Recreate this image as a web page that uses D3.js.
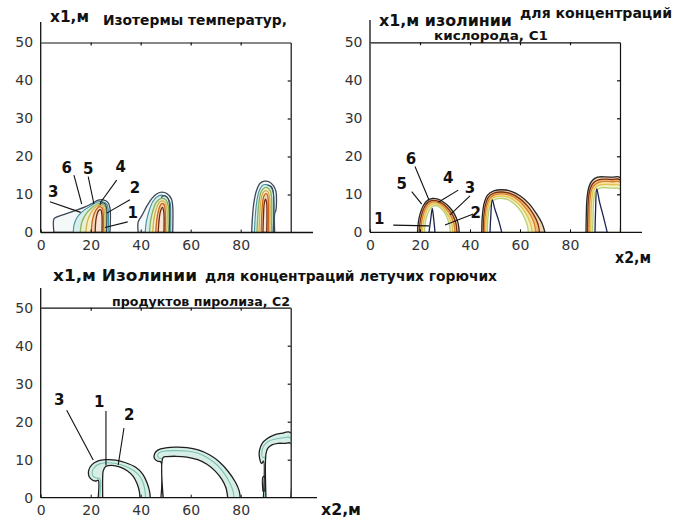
<!DOCTYPE html>
<html>
<head>
<meta charset="utf-8">
<script src="https://cdn.jsdelivr.net/npm/d3@7"></script>
<style>
  body { margin: 0; background: #fff; }
  svg { display: block; }
</style>
</head>
<body>
<script>
// tick values shared by the three panels
const xTicks = [0, 20, 40, 60, 80];
const yTicks = [0, 10, 20, 30, 40, 50];

// isotherms (panel 1): [level, [[x2, x1], ...]]  level 0 = outermost
const tempContours = [
  // plume near x2=25
  [0, [[5.3,0],[5.3,3.6],[6.5,4.1],[10,4.9],[14,5.8],[18,6.8],[21,7.8],[23,8.5],[25,8.6],[26.8,8],[27.7,6.5],[27.7,0]]],
  [1, [[13,0],[13.4,2.2],[14.8,4.2],[17,5.7],[20,7],[22.5,8],[24.8,8.1],[26.5,7.4],[27,6],[27,0]]],
  [2, [[15.8,0],[16.5,2.8],[18,4.8],[20.2,6.4],[22.5,7.5],[24.5,7.6],[25.8,6.8],[26.2,5],[26.2,0]]],
  [3, [[18,0],[18.8,3.2],[20.3,5.4],[22.3,6.9],[24.2,7.2],[25.3,6.3],[25.6,0]]],
  [4, [[20.2,0],[20.8,3.6],[22,5.8],[23.5,6.8],[24.6,6.4],[25,5],[25,0]]],
  [5, [[21.8,0],[22.2,3.8],[23.2,5.8],[24,6],[24.5,4.5],[24.5,0]]],
  // plume near x2=48
  [0, [[39,0],[39,2.8],[40.5,4.5],[42.5,7],[44.5,9],[46.5,10.2],[48.5,10.6],[50.6,10.2],[52.3,8.8],[52.8,7],[52.8,0]]],
  [1, [[41.8,0],[42.3,3],[43.5,6],[45,8.3],[47,9.6],[48.8,9.8],[50.6,9.2],[51.8,7.8],[52,6],[52,0]]],
  [2, [[43.5,0],[44,3.2],[45,6],[46.4,8.1],[48.3,9],[50,8.6],[51,7],[51.2,0]]],
  [3, [[44.8,0],[45.3,3.5],[46.3,6.3],[47.6,8],[49,8.3],[50.2,7.3],[50.4,0]]],
  [4, [[46,0],[46.5,3.6],[47.3,6.2],[48.4,7.6],[49.4,7.3],[49.8,5.8],[49.8,0]]],
  [5, [[47,0],[47.4,3.5],[48,5.8],[48.7,6.6],[49.2,5.5],[49.3,0]]],
  // plume near x2=89
  [0, [[84.4,0],[84.6,3],[85.2,7.5],[86.2,10.8],[87.7,12.9],[89.5,13.5],[91.5,13.3],[93.2,12.2],[94.1,10.8],[94.1,5.9],[93.6,5],[93.6,0]]],
  [1, [[85.5,0],[85.8,4],[86.4,8],[87.3,10.8],[88.7,12.4],[90.3,12.6],[92,12],[93,10.5],[93,0]]],
  [2, [[86.5,0],[86.8,4],[87.3,8],[88.1,10.6],[89.3,11.7],[90.6,11.8],[91.8,11],[92.3,9.5],[92.3,0]]],
  [3, [[87.3,0],[87.6,4],[88,8],[88.8,10.3],[90,11],[91,10.6],[91.6,9],[91.6,0]]],
  [4, [[88.2,0],[88.4,4],[88.8,8],[89.4,9.8],[90.3,10.2],[90.9,9.3],[91,0]]],
  [5, [[88.9,0],[89.1,4],[89.4,7.5],[89.9,8.8],[90.3,8.2],[90.4,0]]]
];
const tempLines = [
  [[26.3,0],[26.3,6.6],[25.6,7.6],[24.5,7.8],[23.6,7.2]],
  [[51.4,0],[51.4,8],[50.6,9.3],[49.2,9.7],[48.2,9.2]],
  [[93,0],[93,10.8],[92.2,12.1],[90.8,12.5]]
];
// label, label centre, leader start, leader end
const tempLabels = [
  ["3", [5, 10.7], [3.7, 8.1], [16, 5.3]],
  ["6", [10.4, 16.9], [13.3, 15.1], [16.4, 7.5]],
  ["5", [19, 16.6], [19, 14.7], [21.3, 7.5]],
  ["4", [32, 17.3], [30.4, 13.8], [23.7, 7.7]],
  ["2", [37.7, 11.6], [35.7, 8.6], [26.4, 5.1]],
  ["1", [36.8, 5.1], [34.8, 2.8], [25.7, 1.3]]
];

// oxygen C1 isolines (panel 2)
const oxyContours = [
  [0, [[19,0],[19.3,2.5],[20,4.8],[21.3,7],[23,8.4],[25,8.9],[27.2,8.7],[29.5,7.9],[31.8,6.6],[33.8,4.8],[35.2,2.5],[35.7,0]]],
  [1, [[19.7,0],[20,2.5],[20.7,4.8],[21.9,6.8],[23.4,8],[25.2,8.4],[27.2,8.2],[29.4,7.4],[31.4,6.1],[33.2,4.4],[34.4,2.3],[34.8,0]]],
  [2, [[20.3,0],[20.6,2.5],[21.3,4.7],[22.4,6.5],[23.8,7.6],[25.3,8],[27.2,7.8],[29.2,7],[31,5.7],[32.6,4],[33.6,2.1],[34,0]]],
  [3, [[21,0],[21.3,2.5],[22,4.5],[23,6.2],[24.3,7.2],[25.6,7.5],[27.2,7.3],[29,6.5],[30.6,5.2],[31.9,3.6],[32.8,1.9],[33.1,0]]],
  [4, [[21.8,0],[22.1,2.5],[22.8,4.4],[23.7,5.8],[24.8,6.7],[26,7],[27.3,6.8],[28.8,6],[30.2,4.8],[31.2,3.2],[31.9,1.6],[32.1,0]]],
  [0, [[44.7,0],[44.9,4],[45.6,7.5],[47,9.8],[49.5,10.9],[53,11.2],[56.5,10.8],[60,9.6],[63.5,7.6],[66.5,5],[68.8,2.4],[70,0]]],
  [1, [[45.3,0],[45.5,4],[46.2,7.3],[47.5,9.4],[49.8,10.4],[53,10.6],[56.3,10.2],[59.6,9],[62.8,7.1],[65.4,4.7],[67.2,2.2],[67.8,0]]],
  [2, [[45.8,0],[46,4],[46.7,7],[48,9],[50.1,9.9],[53,10.1],[56.1,9.7],[59.2,8.5],[62,6.6],[64.4,4.3],[65.8,2],[66.3,0]]],
  [3, [[46.3,0],[46.6,4],[47.2,6.7],[48.4,8.6],[50.4,9.4],[53,9.5],[55.8,9.1],[58.6,7.9],[61.2,6.1],[63.2,3.9],[64.4,1.8],[64.8,0]]],
  [4, [[46.9,0],[47.2,4],[47.8,6.4],[48.9,8.1],[50.7,8.8],[53,8.9],[55.5,8.5],[58,7.3],[60.3,5.6],[62,3.5],[63,1.6],[63.3,0]]],
  [0, [[86.4,0],[86.5,4],[86.8,9],[87.6,12],[89,13.7],[91,14.5],[94,14.6],[97,14.5],[100,14.4],[100,0]]],
  [1, [[87,0],[87.1,4],[87.4,9],[88.2,11.7],[89.5,13.1],[91.4,13.8],[94,14],[97,13.9],[100,13.8],[100,0]]],
  [2, [[87.6,0],[87.7,4],[88,8.8],[88.7,11.3],[90,12.5],[91.8,13.2],[94.2,13.4],[97,13.3],[100,13.2],[100,0]]],
  [3, [[88.3,0],[88.4,4],[88.7,8.6],[89.3,10.9],[90.5,12],[92.2,12.5],[94.5,12.6],[97.2,12.5],[100,12.3],[100,0]]],
  [4, [[89,0],[89.2,4],[89.5,8.4],[90,10.5],[91,11.3],[92.6,11.7],[95,11.7],[97.5,11.6],[100,11.3],[100,0]]],
  // inner spikes
  [5, [[23.6,0],[24.3,3.5],[24.9,6.3],[25.4,4],[26,0]]],
  [5, [[48,0],[48.3,4],[48.9,8.5],[50,6],[51.5,3],[52.7,0]]],
  [5, [[90,0],[90.2,5],[90.7,11.4],[91.8,8],[93.4,4],[94.9,0]]]
];
const oxyLines = [];
const oxyLabels = [
  ["1", [3.7, 3.5], [9.3, 1.9], [23.6, 1.7]],
  ["5", [12.7, 12.7], [16.7, 10.7], [20.7, 7.4]],
  ["6", [16.4, 19.2], [18, 17.3], [23.6, 8.5]],
  ["4", [31.3, 14.4], [35.3, 11.1], [27.3, 7.9]],
  ["3", [40, 11.6], [40, 9.6], [32, 4.6]],
  ["2", [42.3, 5.2], [41.3, 4.8], [30, 1.9]]
];

// pyrolysis products C2 isolines (panel 3)
const pyroContours = [
  [0, [[23,0],[23,4.6],[22.2,4.4],[20.8,4.6],[19.4,5.5],[19.2,7.2],[20.5,8.7],[23,9.7],[26,10],[30,9.9],[34,9.2],[38,8],[40.8,6.2],[42.6,3.8],[43.6,1.5],[43.8,0]]],
  [1, [[23.6,0],[23.6,5],[22.4,5.2],[21,5.6],[20.6,6.8],[21.5,8],[23.5,8.9],[26,9.2],[30,9],[33.8,8.3],[37.3,7.1],[39.8,5.5],[41.2,3.4],[41.8,1.4],[41.9,0]]],
  [2, [[24.8,0],[24.8,5.5],[25,7],[26,8.2],[28.5,8.5],[31.5,8.1],[34.6,7.1],[37,5.6],[38.6,3.6],[39.5,1.5],[39.7,0]]],
  [0, [[48.1,0],[48.1,9.4],[46.8,9.6],[45.5,10.3],[45.6,11.6],[47,12.6],[50,13.1],[54,13.3],[58.5,13.2],[63,12.6],[67.5,11.3],[71.5,9.4],[75,6.9],[77.8,4.2],[79.4,1.8],[79.8,0]]],
  [1, [[48.6,0],[48.6,10.2],[47.3,10.4],[46.7,11.1],[47.5,11.9],[50,12.3],[54,12.4],[58.5,12.3],[63,11.7],[67,10.4],[70.6,8.6],[73.6,6.2],[75.8,3.7],[77,1.6],[77.3,0]]],
  [2, [[49,0],[49,10.6],[50.5,10.8],[54,10.9],[58.5,10.7],[62.8,10],[66.5,8.8],[69.8,7],[72.4,4.9],[74.1,2.6],[74.8,0]]],
  [0, [[89.1,0],[89.1,9.6],[88.4,9],[87.6,10.2],[87.5,12.4],[88.6,14.3],[90.5,15.5],[93,16.4],[96,16.9],[100,17.1],[100,0]]],
  [1, [[89.6,0],[89.6,10.6],[88.8,10.6],[88.4,11.8],[89.2,13.6],[91,14.8],[93.5,15.4],[96.5,15.7],[100,15.7],[100,0]]],
  [2, [[90.1,0],[90.1,11.5],[90.8,13],[92.5,13.9],[95,14.3],[97.5,14.3],[100,14.3],[100,0]]]
];
const pyroLines = [
  [[88.9,1.6],[88.9,5.5],[89.6,5.5],[89.6,1.6]]
];
const pyroLabels = [
  ["3", [7.4, 25.7], [10.4, 23], [21, 9.9]],
  ["1", [23.4, 25.2], [26.1, 22.8], [26.1, 8.5]],
  ["2", [35.4, 21.8], [33.3, 18.3], [31, 8.6]]
];

// styles by contour level
const tempStyle = {
  stroke: ["#3c4656", "#3f8f9c", "#8fae5a", "#d4b04a", "#c8641e", "#6e2a12"],
  fill:   ["#f4f8f8", "#d6eeec", "#e6f1cf", "#f8edc6", "#f5d5b2", "#fae6d6"]
};
const oxyStyle = {
  stroke: ["#262626", "#7c2e12", "#d9822b", "#e2c24e", "#b9cf74", "#1c2250"],
  fill:   ["#f2d6b0", "#eebc80", "#f7e4a4", "#f1f2c8", "#ffffff", "#ffffff"]
};
const pyroStyle = {
  stroke: ["#1e1e1e", "#7cc2b6", "#1e1e1e"],
  fill:   ["#d7eee6", "#d7eee6", "#ffffff"]
};

const svg = d3.select("body").append("svg")
  .attr("width", 675)
  .attr("height", 519)
  .style("font-family", "'DejaVu Sans', sans-serif");

const panels = [
  { id: "p1", left: 40.7, base: 232.5, axisTop: 22, axisEnd: 313,
    contours: tempContours, lines: tempLines, labels: tempLabels, style: tempStyle, lineColor: "#3c4656" },
  { id: "p2", left: 370, base: 232.3, axisTop: 20, axisEnd: 642,
    contours: oxyContours, lines: oxyLines, labels: oxyLabels, style: oxyStyle, lineColor: "#262626" },
  { id: "p3", left: 40.7, base: 497.7, axisTop: 288, axisEnd: 317,
    contours: pyroContours, lines: pyroLines, labels: pyroLabels, style: pyroStyle, lineColor: "#1e1e1e" }
];

panels.forEach(p => {
  const x = d3.scaleLinear().domain([0, 100]).range([p.left, p.left + 250]);
  const y = d3.scaleLinear().domain([0, 50]).range([p.base, p.base - 190]);

  svg.append("clipPath").attr("id", "clip-" + p.id)
    .append("rect")
    .attr("x", x(0)).attr("y", y(50))
    .attr("width", x(100) - x(0)).attr("height", y(0) - y(50));

  const line = d3.line().x(d => x(d[0])).y(d => y(d[1])).curve(d3.curveCatmullRom.alpha(0.5));

  const g = svg.append("g").attr("clip-path", "url(#clip-" + p.id + ")");

  // closed isolines, outer to inner
  g.selectAll("path.iso")
    .data(p.contours)
    .enter()
      .append("path")
        .attr("class", "iso")
        .attr("d", d => line(d[1]) + "Z")
        .attr("fill", d => p.style.fill[d[0]])
        .attr("stroke", d => p.style.stroke[d[0]])
        .attr("stroke-width", d => d[0] == 1 && p.id != "p2" ? 1.1 : 1.3)
        .attr("stroke-linejoin", "round");

  g.selectAll("path.open")
    .data(p.lines)
    .enter()
      .append("path")
        .attr("class", "open")
        .attr("d", d => line(d))
        .attr("fill", "none")
        .attr("stroke", p.lineColor)
        .attr("stroke-width", 1.2);

  // frame: top and right borders with inward ticks
  svg.append("g")
    .attr("transform", `translate(0,${y(50)})`)
    .call(d3.axisBottom(x).tickValues(xTicks.slice(1)).tickSizeInner(3).tickSizeOuter(0).tickFormat(""))
    .call(a => a.selectAll("line, path").attr("stroke", "#111").attr("stroke-width", 1.2));

  svg.append("g")
    .attr("transform", `translate(${x(100)},0)`)
    .call(d3.axisLeft(y).tickValues(yTicks.slice(1, 5)).tickSizeInner(-3).tickSizeOuter(0).tickFormat(""))
    .call(a => a.selectAll("line").attr("transform", "translate(-3,0)"))
    .call(a => a.selectAll("line, path").attr("stroke", "#111").attr("stroke-width", 1.2));

  // left axis
  const ya = svg.append("g")
    .attr("transform", `translate(${x(0)},0)`)
    .call(d3.axisLeft(y).tickValues(yTicks).tickSize(0).tickPadding(7.5));
  ya.select(".domain").remove();
  ya.selectAll("text").attr("font-size", "14px").attr("font-family", "'DejaVu Sans', sans-serif").attr("fill", "#333");

  svg.append("line")
    .attr("x1", x(0)).attr("x2", x(0))
    .attr("y1", p.axisTop).attr("y2", y(0))
    .attr("stroke", "#111").attr("stroke-width", 1.3);

  // bottom axis
  const xa = svg.append("g")
    .attr("transform", `translate(0,${y(0)})`)
    .call(d3.axisBottom(x).tickValues(xTicks).tickSizeInner(-3).tickSizeOuter(0).tickPadding(7.5));
  xa.select(".domain").remove();
  xa.selectAll("line").attr("stroke", "#111");
  xa.selectAll("text").attr("font-size", "14px").attr("font-family", "'DejaVu Sans', sans-serif").attr("fill", "#333");

  svg.append("line")
    .attr("x1", x(0)).attr("x2", p.axisEnd)
    .attr("y1", y(0)).attr("y2", y(0))
    .attr("stroke", "#111").attr("stroke-width", 1.3);

  // numbered leaders
  const lab = svg.append("g");
  lab.selectAll("line")
    .data(p.labels)
    .enter()
      .append("line")
        .attr("x1", d => x(d[2][0])).attr("y1", d => y(d[2][1]))
        .attr("x2", d => x(d[3][0])).attr("y2", d => y(d[3][1]))
        .attr("stroke", "#111").attr("stroke-width", 1.1);
  lab.selectAll("text")
    .data(p.labels)
    .enter()
      .append("text")
        .attr("x", d => x(d[1][0])).attr("y", d => y(d[1][1]))
        .attr("text-anchor", "middle")
        .attr("dominant-baseline", "central")
        .attr("font-size", "15px")
        .attr("font-weight", "bold")
        .attr("fill", "#111")
        .text(d => d[0]);
});

// titles: text, x, baseline, font size, width
const titles = [
  ["x1,м", 50, 22, 15, 39],
  ["Изотермы температур,", 103, 25, 13.5, 184],
  ["x1,м изолинии", 379, 26, 15, 133],
  ["для концентраций", 520, 18, 13.5, 152],
  ["кислорода, С1", 434, 40, 13, 114],
  ["x2,м", 615, 263, 15, 36],
  ["x1,м Изолинии", 53, 281, 16, 144],
  ["для концентраций летучих горючих", 205, 281, 13.5, 292],
  ["продуктов пиролиза, С2", 112, 306, 13, 178],
  ["x2,м", 321, 515, 15, 40]
];
svg.append("g").selectAll("text")
  .data(titles)
  .enter()
    .append("text")
      .attr("x", d => d[1])
      .attr("y", d => d[2])
      .attr("font-size", d => d[3] + "px")
      .attr("font-weight", "bold")
      .attr("fill", "#111")
      .attr("textLength", d => d[4])
      .attr("lengthAdjust", "spacingAndGlyphs")
      .text(d => d[0]);
</script>
</body>
</html>
